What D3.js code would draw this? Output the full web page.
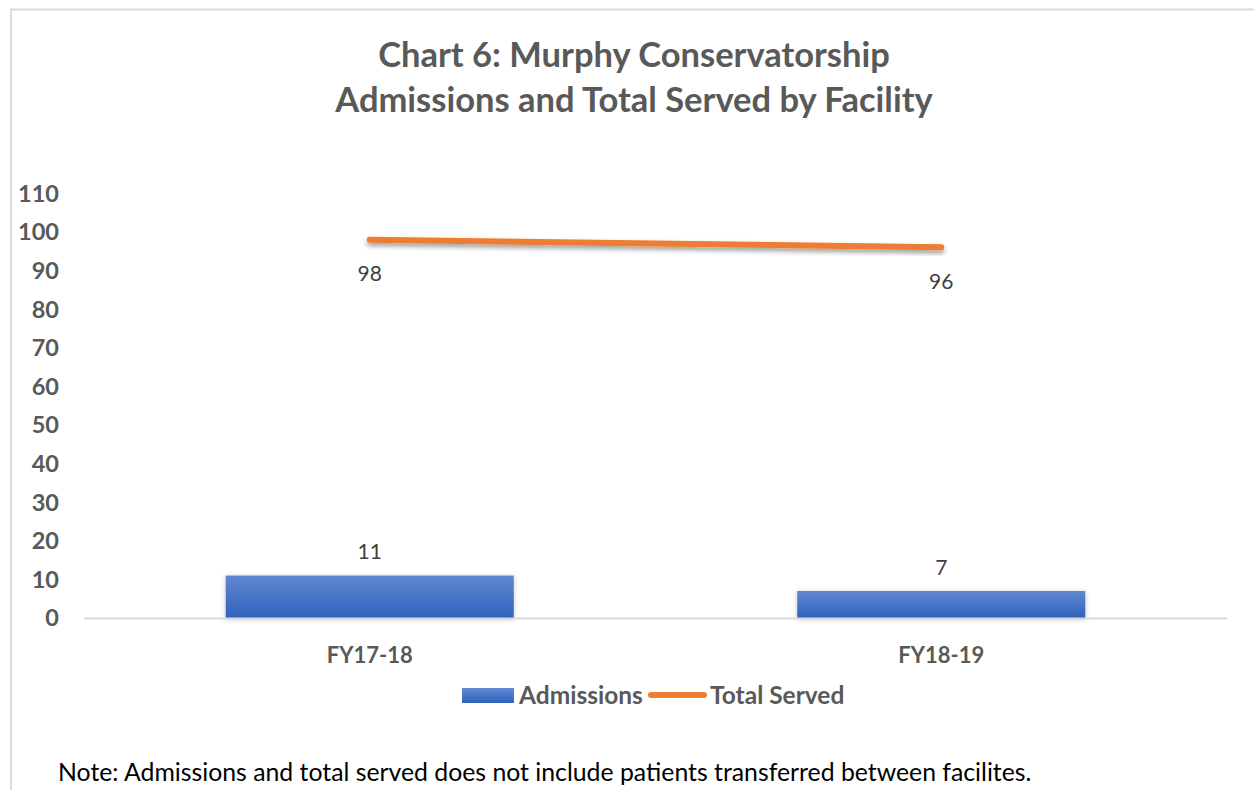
<!DOCTYPE html>
<html>
<head>
<meta charset="utf-8">
<script src="https://cdn.jsdelivr.net/npm/d3@7"></script>
<style>
  html, body { margin: 0; padding: 0; background: #fff; }
  svg { display: block; }
</style>
</head>
<body>
<svg id="chart" width="1254" height="790"></svg>
<script>
// Chart data
const categories = ['FY17-18', 'FY18-19'];
const admissions = [11, 7];
const totalServed = [98, 96];
const yTicks = [0, 10, 20, 30, 40, 50, 60, 70, 80, 90, 100, 110];
const titleLines = ['Chart 6: Murphy Conservatorship', 'Admissions and Total Served by Facility'];
const seriesNames = ['Admissions', 'Total Served'];
const noteText = 'Note: Admissions and total served does not include patients transferred between facilites.';

const svg = d3.select('#chart');
const font = 'Lato, Carlito, Calibri, sans-serif';

// Plot area
const plot = { left: 84, right: 1227, top: 193.3, bottom: 618 };

const x = d3.scaleBand()
  .domain(categories)
  .range([plot.left, plot.right])
  .padding(0);

const y = d3.scaleLinear()
  .domain([0, 110])
  .range([plot.bottom, plot.top]);

const barWidth = x.bandwidth() * 0.504;

// Defs: gradient + shadows
const defs = svg.append('defs');
const grad = defs.append('linearGradient')
  .attr('id', 'barGrad')
  .attr('x1', 0).attr('y1', 0).attr('x2', 0).attr('y2', 1);
grad.append('stop').attr('offset', '0%').attr('stop-color', '#6288d0');
grad.append('stop').attr('offset', '100%').attr('stop-color', '#2f62be');

const shadow = defs.append('filter')
  .attr('id', 'shadow')
  .attr('x', '-10%').attr('y', '-50%').attr('width', '120%').attr('height', '250%');
shadow.append('feDropShadow')
  .attr('dx', 0).attr('dy', 3).attr('stdDeviation', 2.5)
  .attr('flood-color', '#000').attr('flood-opacity', 0.4);

const barShadow = defs.append('filter')
  .attr('id', 'barShadow')
  .attr('x', '-10%').attr('y', '-30%').attr('width', '120%').attr('height', '160%');
barShadow.append('feDropShadow')
  .attr('dx', 0).attr('dy', 1).attr('stdDeviation', 2.5)
  .attr('flood-color', '#000').attr('flood-opacity', 0.25);

// Chart border (left + top only visible)
svg.append('path')
  .attr('d', 'M11,800 L11,9.5 L1260,9.5')
  .attr('fill', 'none')
  .attr('stroke', '#d9d9d9')
  .attr('stroke-width', 2);

// Title
svg.append('g').selectAll('text')
  .data(titleLines)
  .enter()
  .append('text')
  .attr('x', 634)
  .attr('y', (d, i) => 67 + i * 45)
  .attr('text-anchor', 'middle')
  .attr('font-family', font)
  .attr('font-weight', 'bold')
  .attr('font-size', 34.5)
  .attr('fill', '#595959')
  .text(d => d);

// Y axis labels
svg.append('g').selectAll('text')
  .data(yTicks)
  .enter()
  .append('text')
  .attr('x', 59)
  .attr('y', d => y(d))
  .attr('dy', '0.36em')
  .attr('text-anchor', 'end')
  .attr('font-family', font)
  .attr('font-weight', 'bold')
  .attr('font-size', 23.5)
  .attr('fill', '#595959')
  .text(d => d);

// Bars
svg.append('g').selectAll('rect')
  .data(admissions)
  .enter()
  .append('rect')
  .attr('x', (d, i) => x(categories[i]) + (x.bandwidth() - barWidth) / 2)
  .attr('y', d => y(d))
  .attr('width', barWidth)
  .attr('height', d => y(0) - y(d))
  .attr('fill', 'url(#barGrad)')
  .attr('filter', 'url(#barShadow)');

// X axis line
svg.append('line')
  .attr('x1', plot.left).attr('x2', plot.right)
  .attr('y1', y(0) + 0.5).attr('y2', y(0) + 0.5)
  .attr('stroke', '#d9d9d9')
  .attr('stroke-width', 2);

// Bar labels
svg.append('g').selectAll('text')
  .data(admissions)
  .enter()
  .append('text')
  .attr('x', (d, i) => x(categories[i]) + x.bandwidth() / 2)
  .attr('y', d => y(d) - 24)
  .attr('dy', '0.36em')
  .attr('text-anchor', 'middle')
  .attr('font-family', font)
  .attr('font-size', 21)
  .attr('fill', '#404040')
  .text(d => d);

// Line series
const line = d3.line()
  .x((d, i) => x(categories[i]) + x.bandwidth() / 2)
  .y(d => y(d));

svg.append('path')
  .datum(totalServed)
  .attr('d', line)
  .attr('fill', 'none')
  .attr('stroke', '#ed7d31')
  .attr('stroke-width', 6)
  .attr('stroke-linecap', 'round')
  .attr('filter', 'url(#shadow)');

// Line labels
svg.append('g').selectAll('text')
  .data(totalServed)
  .enter()
  .append('text')
  .attr('x', (d, i) => x(categories[i]) + x.bandwidth() / 2)
  .attr('y', d => y(d) + 34)
  .attr('dy', '0.36em')
  .attr('text-anchor', 'middle')
  .attr('font-family', font)
  .attr('font-size', 21)
  .attr('fill', '#404040')
  .text(d => d);

// X category labels
svg.append('g').selectAll('text')
  .data(categories)
  .enter()
  .append('text')
  .attr('x', d => x(d) + x.bandwidth() / 2)
  .attr('y', 655)
  .attr('dy', '0.36em')
  .attr('text-anchor', 'middle')
  .attr('font-family', font)
  .attr('font-weight', 'bold')
  .attr('font-size', 22)
  .attr('fill', '#595959')
  .text(d => d);

// Legend
const legend = svg.append('g');
legend.append('rect')
  .attr('x', 462).attr('y', 688)
  .attr('width', 52).attr('height', 15)
  .attr('fill', 'url(#barGrad)');
legend.append('text')
  .attr('x', 519).attr('y', 695)
  .attr('dy', '0.36em')
  .attr('font-family', font)
  .attr('font-weight', 'bold')
  .attr('font-size', 24.5)
  .attr('fill', '#595959')
  .text(seriesNames[0]);
legend.append('line')
  .attr('x1', 651).attr('x2', 704)
  .attr('y1', 695).attr('y2', 695)
  .attr('stroke', '#ed7d31')
  .attr('stroke-width', 6)
  .attr('stroke-linecap', 'round');
legend.append('text')
  .attr('x', 710).attr('y', 695)
  .attr('dy', '0.36em')
  .attr('font-family', font)
  .attr('font-weight', 'bold')
  .attr('font-size', 24.5)
  .attr('fill', '#595959')
  .text(seriesNames[1]);

// Note
svg.append('text')
  .attr('x', 58).attr('y', 772)
  .attr('dy', '0.36em')
  .attr('font-family', font)
  .attr('font-size', 24.8)
  .attr('fill', '#000')
  .text(noteText);
</script>
</body>
</html>
